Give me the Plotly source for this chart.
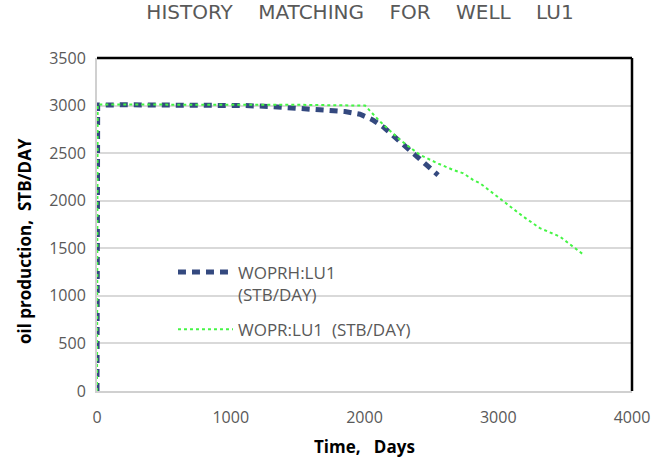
import plotly.graph_objects as go

# History (WOPRH) data
hist_days = [0, 5, 200, 400, 600, 800, 1000, 1107, 1300, 1500, 1742, 1854, 1966, 2061, 2146, 2228, 2308, 2390, 2472, 2550]
hist_rate = [0, 3005, 3008, 3008, 3008, 3008, 3006, 3000, 2990, 2975, 2955, 2937, 2909, 2850, 2769, 2667, 2569, 2471, 2366, 2270]

# Simulated (WOPR) data
sim_days = [0, 5, 500, 1000, 1500, 2004, 2116, 2265, 2415, 2552, 2662, 2739, 2811, 2864, 3038, 3187, 3312, 3462, 3640]
sim_rate = [0, 3010, 3010, 3010, 3008, 3000, 2832, 2640, 2481, 2390, 2324, 2288, 2219, 2183, 1991, 1833, 1711, 1622, 1430]

x_ticks = [0, 1000, 2000, 3000, 4000]
y_ticks = [0, 500, 1000, 1500, 2000, 2500, 3000, 3500]

FONT = "Open Sans"
GRAY = "#595959"
W, H = 655, 460
L, R, T, B = 97, 23, 58, 69
PW, PH = W - L - R, H - T - B

fig = go.Figure()
fig.add_trace(go.Scatter(
    x=hist_days, y=hist_rate, mode="lines",
    name="WOPRH:LU1<br>(STB/DAY)", legendgroup="hist",
    line=dict(color="#34497f", width=5, dash="8px,6px"),
))
fig.add_trace(go.Scatter(
    x=sim_days, y=sim_rate, mode="lines",
    name="WOPR:LU1  (STB/DAY)", legendgroup="sim",
    line=dict(color="#45f545", width=2, dash="dot"),
))

fig.update_layout(
    width=W, height=H,
    margin=dict(l=L, r=R, t=T, b=B, autoexpand=False),
    paper_bgcolor="white", plot_bgcolor="white",
    font=dict(family=FONT, color=GRAY, size=15),
    title=dict(text="HISTORY    MATCHING    FOR    WELL    LU1", x=360 / W, xanchor="center",
               y=1 - 12 / H, yanchor="middle",
               font=dict(family="DejaVu Sans", size=20, color=GRAY)),
    xaxis=dict(range=[0, 4000], tickvals=x_ticks, showgrid=False, zeroline=False,
               showline=True, linecolor="#d0d0d0", linewidth=2, ticks="", automargin=False,
               tickfont=dict(size=16, color=GRAY), ticklabelstandoff=11),
    yaxis=dict(range=[0, 3500], tickvals=y_ticks, showgrid=True, gridcolor="#d9d9d9", gridwidth=1.5,
               zeroline=False, showline=True, linecolor="#d0d0d0", linewidth=2, ticks="", automargin=False,
               tickfont=dict(size=16, color=GRAY), ticklabelstandoff=6),
    legend=dict(x=0.142, y=0.41, xanchor="left", yanchor="top", itemwidth=55, valign="top",
                bgcolor="rgba(0,0,0,0)", font=dict(size=17, color=GRAY),
                tracegroupgap=10),
    showlegend=True,
)

# axis titles as annotations
fig.add_annotation(text="<b>Time,   Days</b>", xref="paper", yref="paper",
                   x=(364 - L) / PW, y=-(446 - (H - B)) / PH,
                   xanchor="center", yanchor="middle", showarrow=False,
                   font=dict(family=FONT, size=17, color="black"))
fig.add_annotation(text="<b>oil production,  STB/DAY</b>", xref="paper", yref="paper",
                   x=-(L - 25) / PW, y=((H - B) - 241) / PH,
                   xanchor="center", yanchor="middle", textangle=-90, showarrow=False,
                   font=dict(family=FONT, size=17, color="black"))

# top and right black frame lines
fig.add_shape(type="line", xref="paper", yref="paper", x0=0, x1=1, y0=1, y1=1,
              line=dict(color="black", width=2.5))
fig.add_shape(type="line", xref="paper", yref="paper", x0=1, x1=1, y0=0, y1=1,
              line=dict(color="black", width=2.5))

fig.write_html("out.html", config={"displayModeBar": False},
               post_script="document.body.style.margin='0px';")
